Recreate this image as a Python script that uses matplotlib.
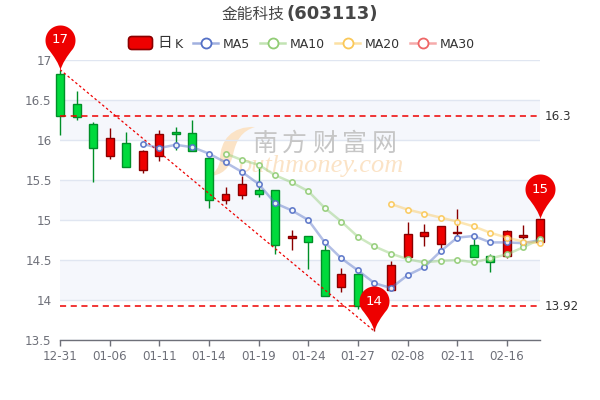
# -*- coding: utf-8 -*-
import numpy as np
import matplotlib
matplotlib.use('Agg')
import matplotlib.pyplot as plt
from matplotlib.lines import Line2D
from matplotlib.patches import FancyBboxPatch, PathPatch
from matplotlib.path import Path
from matplotlib.transforms import Affine2D

tick_pos = [0, 3, 6, 9, 12, 15, 18, 21, 24, 27]
tick_labels = ['12-31', '01-06', '01-11', '01-14', '01-19', '01-24', '01-27', '02-08', '02-11', '02-16']
y_ticks = [13.5, 14, 14.5, 15, 15.5, 16, 16.5, 17]
y_labels = ['13.5', '14', '14.5', '15', '15.5', '16', '16.5', '17']

opens = [16.83, 16.45, 16.20, 15.80, 15.96, 15.62, 15.80, 16.10, 16.09, 15.77,
         15.25, 15.31, 15.37, 15.37, 14.78, 14.80, 14.62, 14.16, 14.33, 13.95,
         14.12, 14.54, 14.80, 14.70, 14.84, 14.69, 14.55, 14.55, 14.79, 14.72]
closes = [16.30, 16.29, 15.90, 16.02, 15.66, 15.86, 16.07, 16.08, 15.86, 15.25,
          15.33, 15.45, 15.32, 14.69, 14.80, 14.73, 14.05, 14.32, 13.93, 14.13,
          14.44, 14.83, 14.85, 14.92, 14.85, 14.54, 14.47, 14.86, 14.81, 15.01]
lows = [16.06, 16.25, 15.48, 15.76, 15.66, 15.59, 15.74, 15.87, 15.86, 15.15,
        15.20, 15.26, 15.29, 14.58, 14.62, 14.39, 14.05, 14.10, 13.89, 13.61,
        14.12, 14.54, 14.68, 14.65, 14.77, 14.54, 14.35, 14.52, 14.76, 14.72]
highs = [16.88, 16.61, 16.22, 16.15, 16.10, 15.87, 16.13, 16.16, 16.25, 15.78,
         15.41, 15.55, 15.65, 15.37, 14.87, 14.80, 14.69, 14.40, 14.33, 14.13,
         14.49, 14.97, 14.95, 14.93, 15.14, 14.76, 14.58, 14.87, 14.94, 15.01]

ma5 = [None] * 5 + [15.95, 15.90, 15.94, 15.91, 15.83, 15.72, 15.60, 15.45, 15.21, 15.12,
                    15.00, 14.72, 14.52, 14.37, 14.21, 14.15, 14.31, 14.41, 14.61, 14.78,
                    14.80, 14.72, 14.72, 14.71, 14.75]
ma10 = [None] * 10 + [15.83, 15.75, 15.69, 15.56, 15.47, 15.36, 15.15, 14.98, 14.79, 14.67,
                      14.58, 14.51, 14.47, 14.49, 14.50, 14.47, 14.52, 14.57, 14.66, 14.76]
ma20 = [None] * 20 + [15.20, 15.13, 15.08, 15.03, 14.98, 14.92, 14.84, 14.78, 14.73, 14.71]

ma_names = ['MA5', 'MA10', 'MA20', 'MA30']
ma_colors = ['#5470C6', '#91CC75', '#FAC858', '#EE6666']

resist = 16.3
support = 13.92

RED, RED_D = '#EE0000', '#8A0000'
GREEN, GREEN_D = '#00DA3C', '#008F28'
GREY = '#6E7079'

plt.rcParams['font.family'] = ['DejaVu Sans', 'Noto Sans CJK SC']

fig = plt.figure(figsize=(6, 4), dpi=100)
ax = fig.add_axes([0.1, 0.15, 0.8, 0.7])
ax.set_xlim(0, 29)
ax.set_ylim(13.5, 17)

# image pixels, y going down
px = Affine2D().scale(1, -1).translate(0, 400)

# alternate bands + grid
for y0 in [14, 15, 16]:
    ax.axhspan(y0, y0 + 0.5, color='#F5F7FC', lw=0, zorder=0)
ax.grid(axis='y', color='#E0E6F1', lw=1, zorder=1)
ax.set_axisbelow(True)

# watermark: crescent, then the two texts
moon = Path([(255, 127), (232, 126), (220, 140), (220, 160), (219, 168), (215, 173), (208, 176),
             (222, 176), (230, 168), (233, 155), (236, 140), (242, 131), (255, 127)],
            [Path.MOVETO] + [Path.CURVE4] * 12)
ax.add_patch(PathPatch(moon, transform=px, fc='#FBE3C6', ec='none', zorder=0.5, clip_on=False))
for i, ch in enumerate('南方财富网'):
    ax.text(252 + i * 30, 151, ch, transform=px, fontsize=18, family='Noto Sans CJK SC', weight='medium',
            color='#C6C6C6', va='baseline', zorder=0.6)
ax.text(238, 172, 'outhmoney.com', transform=px, fontsize=19, family='Liberation Serif', style='italic',
        color='#FBE3C6', va='baseline', zorder=0.6)

# candles
x = np.arange(len(opens))
o = np.array(opens)
c = np.array(closes)
up = c >= o
edge = [RED_D if u else GREEN_D for u in up]
face = [RED if u else GREEN for u in up]
ax.vlines(x, lows, highs, colors=edge, lw=1, zorder=3, clip_on=False)
ax.bar(x, np.abs(c - o), bottom=np.minimum(o, c), width=0.48, color=face, edgecolor=edge,
       linewidth=1, zorder=4, clip_on=False)

# mark lines
ax.plot([0, 19], [highs[0], lows[19]], color='#EE0000', ls=(0, (2, 2)), lw=0.9, zorder=5)
for v in [resist, support]:
    ax.plot([0, 29], [v, v], color='#EE0000', ls=(0, (4, 3)), lw=1.1, zorder=5)
    ax.annotate(str(v), (29, v), xytext=(3.5, 0), textcoords='offset points', va='center',
                fontsize=8.6, color='#333333', annotation_clip=False)

# moving averages
for vals, col in zip([ma5, ma10, ma20], ma_colors):
    arr = np.array([np.nan if v is None else v for v in vals])
    ax.plot(x, arr, color=col, lw=1.8, alpha=0.45, zorder=6, clip_on=False)
    ax.plot(x, arr, ls='none', marker='o', ms=3.8, mfc='#FFFFFF', mec=col, mew=1.2, alpha=0.9,
            zorder=7, clip_on=False)

# pins, tip sits on the value
t = np.radians(np.linspace(-35, 215, 50))
cx, cy, r = 0, 30, 15
ring = np.c_[cx + r * np.cos(t), cy + r * np.sin(t)]
verts = [(0, 0), (1, 6), (ring[0][0] - 5, ring[0][1] - 6), tuple(ring[0])]
codes = [Path.MOVETO] + [Path.CURVE4] * 3
verts += [tuple(p) for p in ring[1:]]
codes += [Path.LINETO] * (len(ring) - 1)
verts += [(ring[-1][0] + 5, ring[-1][1] - 6), (-1, 6), (0, 0)]
codes += [Path.CURVE4] * 3
pin = Path(verts, codes)
for i, v, lab in [(0, highs[0], '17'), (19, lows[19], '14'), (29, closes[29], '15')]:
    ax.plot([i], [v], marker=pin, ms=64.8, color=RED, mew=0, zorder=9, clip_on=False)
    ax.annotate(lab, (i, v), xytext=(0, 21.4), textcoords='offset points', ha='center', va='center',
                fontsize=9.6, color='#FFFFFF', zorder=10, annotation_clip=False)

# axes
for s in ['top', 'right', 'left']:
    ax.spines[s].set_visible(False)
ax.spines['bottom'].set_color(GREY)
ax.spines['bottom'].set_linewidth(1)
ax.set_xticks(tick_pos)
ax.set_xticklabels(tick_labels)
ax.set_yticks(y_ticks)
ax.set_yticklabels(y_labels)
ax.tick_params(axis='x', length=4, width=1, color=GREY, labelcolor=GREY, labelsize=8.6, pad=3.4)
ax.tick_params(axis='y', length=0, labelcolor=GREY, labelsize=8.6, pad=6)

# title
fig.text(222, 19, '金能科技', transform=px, fontsize=11.3, family='Noto Sans CJK SC', color='#464646', va='baseline')
fig.text(286, 19, '(603113)', transform=px, fontsize=13, weight='bold', family='DejaVu Sans', color='#464646', va='baseline')

# legend
fig.add_artist(FancyBboxPatch((128.5, 36.5), 24, 13, boxstyle='round,pad=0,rounding_size=3.5', transform=px,
                              fc=RED, ec=RED_D, lw=1.2))
fig.text(157, 47, '日', transform=px, fontsize=10.5, family='Noto Sans CJK SC', color='#333333', va='baseline')
fig.text(175, 47.5, 'K', transform=px, fontsize=9, color='#333333', va='baseline')
leg_x = [193, 260, 335, 410]
for lx, name, col in zip(leg_x, ma_names, ma_colors):
    fig.add_artist(Line2D([lx, lx + 25], [43, 43], transform=px, color=col, lw=1.8, alpha=0.55))
    fig.add_artist(Line2D([lx + 12.5], [43], transform=px, ls='none', marker='o', ms=7.2, mfc='white', mec=col, mew=1.3))
    fig.text(lx + 30, 47.5, name, transform=px, fontsize=9, color='#333333', va='baseline')

fig.savefig('out.png', dpi=100)
